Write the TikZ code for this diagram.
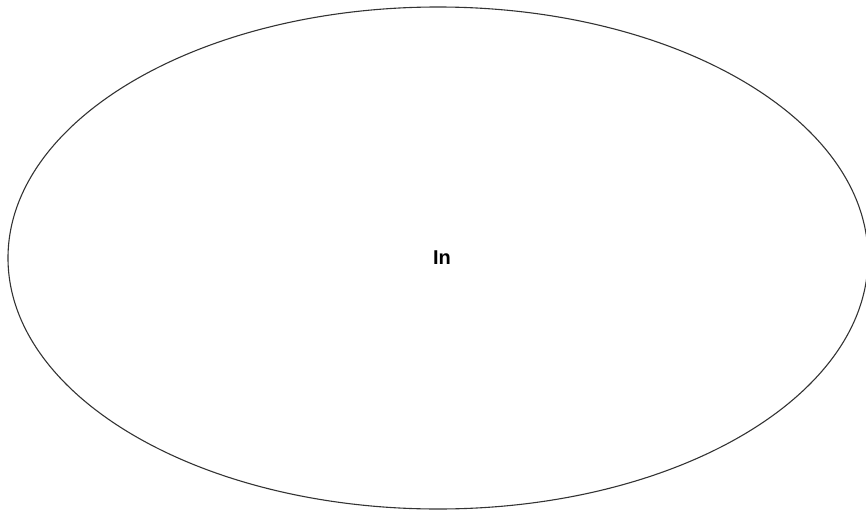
\documentclass[tikz,border=0pt]{standalone}
\usepackage{fontspec}
\setmainfont{Liberation Sans}
\usetikzlibrary{shapes.geometric}
\tikzset{
  oval/.style={ellipse, draw=black!80, line width=1.1pt, minimum width=860pt, minimum height=502pt, inner sep=0pt},
  lbl/.style={font=\bfseries\fontsize{20}{24}\selectfont, inner sep=0pt}
}
\begin{document}
\begin{tikzpicture}[x=1pt,y=-1pt]
\useasboundingbox (0,0) rectangle (866,511);
\node[oval] (e) at (438,258) {};
\node[lbl] (t) at (442,258) {In};
\end{tikzpicture}
\end{document}
